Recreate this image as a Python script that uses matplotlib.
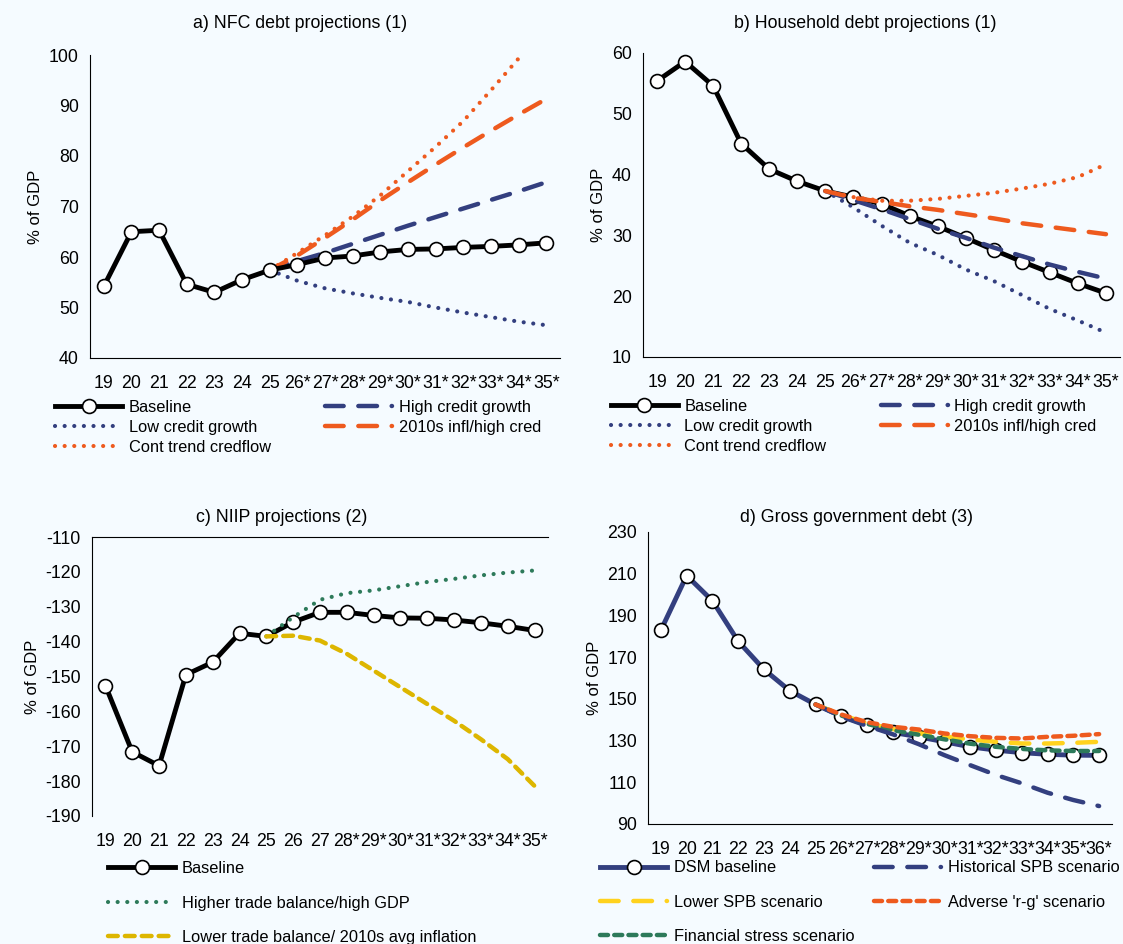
import numpy as np
import matplotlib
matplotlib.use("Agg")
import matplotlib.pyplot as plt

plt.rcParams['font.family'] = ['Liberation Sans', 'DejaVu Sans']
plt.rcParams['font.size'] = 12
plt.rcParams['axes.unicode_minus'] = False

nan = np.nan
BG = '#F5FBFF'
NAVY = '#333F7F'
ORANGE = '#EE5A1E'
GREEN = '#2D7A5A'
GOLD = '#DDB600'
YELLOW = '#FFD21E'

# --- panel a) NFC debt
years_ab = ['19', '20', '21', '22', '23', '24', '25', '26*', '27*', '28*', '29*',
            '30*', '31*', '32*', '33*', '34*', '35*']
nfc_base = [54.2, 65.0, 65.3, 54.6, 53.0, 55.5, 57.4, 58.5, 59.8, 60.2, 61.0,
            61.5, 61.6, 61.9, 62.1, 62.4, 62.8]
nfc_high = [nan] * 6 + [57.4, 59.2, 60.8, 62.6, 64.4, 66.2, 67.9, 69.6, 71.3, 73.0, 74.8]
nfc_low = [nan] * 6 + [57.4, 55.3, 53.8, 52.8, 51.9, 51.1, 50.0, 49.0, 48.1, 47.2, 46.5]
nfc_infl = [nan] * 6 + [57.4, 60.3, 63.8, 67.4, 71.2, 74.8, 78.3, 81.7, 85.0, 88.2, 91.3]
nfc_trend = [nan] * 6 + [57.4, 60.8, 64.3, 68.0, 72.2, 77.0, 81.8, 86.9, 93.0, 99.3, nan]

# --- panel b) household debt
hh_base = [55.4, 58.6, 54.6, 45.1, 40.9, 38.9, 37.3, 36.3, 35.2, 33.2, 31.5,
           29.6, 27.6, 25.7, 23.9, 22.1, 20.5]
hh_high = [nan] * 6 + [37.3, 35.8, 34.3, 32.7, 31.1, 29.6, 28.0, 26.6, 25.2, 24.0, 22.9]
hh_low = [nan] * 6 + [37.3, 34.6, 31.6, 28.8, 26.8, 24.4, 22.5, 20.2, 17.9, 16.0, 14.0]
hh_infl = [nan] * 6 + [37.3, 36.2, 35.5, 34.8, 34.2, 33.5, 32.8, 32.0, 31.4, 30.8, 30.2]
hh_trend = [nan] * 6 + [37.3, 36.3, 35.7, 35.7, 36.0, 36.5, 37.0, 37.7, 38.5, 39.6, 41.7]

# --- panel c) NIIP
years_c = ['19', '20', '21', '22', '23', '24', '25', '26', '27', '28*', '29*',
           '30*', '31*', '32*', '33*', '34*', '35*']
niip_base = [-152.6, -171.6, -175.6, -149.5, -145.9, -137.6, -138.5, -134.4, -131.6,
             -131.6, -132.5, -133.2, -133.3, -133.8, -134.6, -135.6, -136.8]
niip_high = [nan] * 6 + [-138.5, -133.0, -128.0, -126.1, -125.3, -124.1, -122.9,
                         -122.0, -121.0, -120.2, -119.6]
niip_low = [nan] * 6 + [-138.5, -138.3, -139.7, -143.5, -148.3, -153.1, -157.9,
                        -162.7, -168.0, -173.7, -181.4]

# --- panel d) gross government debt
years_d = ['19', '20', '21', '22', '23', '24', '25', '26*', '27*', '28*', '29*',
           '30*', '31*', '32*', '33*', '34*', '35*', '36*']
gov_base = [182.9, 209.1, 197.0, 177.6, 164.1, 153.9, 147.3, 141.7, 137.6, 133.9,
            131.8, 129.4, 127.0, 125.4, 124.2, 123.4, 123.0, 122.9]
gov_hist = [nan] * 6 + [147.3, 141.5, 137.0, 133.0, 128.3, 123.0, 118.2, 113.5,
                        109.5, 105.0, 101.5, 98.6]
gov_lowspb = [nan] * 6 + [147.3, 142.3, 138.3, 135.5, 133.5, 132.0, 130.5, 129.4,
                          128.6, 128.6, 128.9, 129.4]
gov_adverse = [nan] * 6 + [147.3, 142.5, 138.8, 136.6, 135.3, 133.4, 132.1, 131.3,
                           131.0, 131.8, 132.3, 133.1]
gov_stress = [nan] * 6 + [147.3, 142.0, 138.0, 135.0, 132.8, 130.6, 128.5, 127.0,
                          126.0, 125.3, 125.0, 125.0]

W, H = 1123, 944
fig = plt.figure(figsize=(W / 100, H / 100), dpi=100, facecolor=BG)


def box(l, r, t, b):
    return [l / W, 1 - b / H, (r - l) / W, (b - t) / H]


dot = dict(linestyle=(0, (0.01, 2.3)), dash_capstyle='round', lw=3.0)
longdash = dict(linestyle=(0, (4.2, 3.3)), dash_capstyle='round', lw=3.2)
shortdash = dict(linestyle=(0, (1.8, 1.4)), dash_capstyle='round', lw=3.2)
base_style = dict(color='black', lw=3.5, marker='o', ms=10, mfc='white', mec='black', mew=1.2)
leg_kw = dict(loc='upper left', frameon=False, handlelength=4.1, handletextpad=0.4,
              borderpad=0, borderaxespad=0, fontsize=11.8)


def setup(ax, labels, ylim, step):
    x = np.arange(len(labels))
    ax.set_facecolor(BG)
    ax.set_xlim(-0.5, len(labels) - 0.5)
    ax.set_ylim(*ylim)
    ax.set_yticks(np.arange(ylim[0], ylim[1] + 0.1, step))
    ax.set_xticks(x)
    ax.set_xticklabels(labels)
    for s in ['top', 'right']:
        ax.spines[s].set_visible(False)
    ax.tick_params(length=0, labelsize=12.8)
    ax.tick_params(axis='x', pad=12)
    ax.tick_params(axis='y', pad=8)
    ax.set_ylabel('% of GDP', fontsize=12, labelpad=4)
    return x


# a)
ax = fig.add_axes(box(90, 560, 55, 358))
x = setup(ax, years_ab, (40, 100), 10)
ax.plot(x, nfc_base, label='Baseline', zorder=4, **base_style)
ax.plot(x, nfc_low, color=NAVY, label='Low credit growth', zorder=3, **dot)
ax.plot(x, nfc_trend, color=ORANGE, label='Cont trend credflow', zorder=3, **dot)
ax.plot(x, nfc_high, color=NAVY, label='High credit growth', zorder=3, **longdash)
ax.plot(x, nfc_infl, color=ORANGE, label='2010s infl/high cred', zorder=3, **longdash)
ax.legend(bbox_to_anchor=(-0.074, -0.137), ncol=2, columnspacing=3.3,
          labelspacing=0.32, **leg_kw)
fig.text(300 / W, 1 - 24 / H, 'a) NFC debt projections (1)', ha='center', va='center', fontsize=12.8)

# b)
ax = fig.add_axes(box(643, 1120, 53, 357))
x = setup(ax, years_ab, (10, 60), 10)
ax.plot(x, hh_base, label='Baseline', zorder=2, **base_style)
ax.plot(x, hh_low, color=NAVY, label='Low credit growth', zorder=3, **dot)
ax.plot(x, hh_trend, color=ORANGE, label='Cont trend credflow', zorder=3, **dot)
ax.plot(x, hh_high, color=NAVY, label='High credit growth', zorder=3, **longdash)
ax.plot(x, hh_infl, color=ORANGE, label='2010s infl/high cred', zorder=3, **longdash)
ax.legend(bbox_to_anchor=(-0.068, -0.137), ncol=2, columnspacing=3.3,
          labelspacing=0.32, **leg_kw)
fig.text(865 / W, 1 - 24 / H, 'b) Household debt projections (1)', ha='center', va='center', fontsize=12.8)

# c)
ax = fig.add_axes(box(92, 548, 537, 816))
x = setup(ax, years_c, (-190, -110), 10)
ax.spines['bottom'].set_visible(False)
ax.spines['top'].set_visible(True)
ax.plot(x, niip_base, label='Baseline', zorder=2, **base_style)
ax.plot(x, niip_high, color=GREEN, label='Higher trade balance/high GDP', zorder=3, **dot)
ax.plot(x, niip_low, color=GOLD, label='Lower trade balance/ 2010s avg inflation', zorder=3,
        linestyle=(0, (2.2, 1.6)), dash_capstyle='round', lw=3.2)
ax.legend(bbox_to_anchor=(0.035, -0.162), ncol=1, labelspacing=1.18, **leg_kw)
fig.text(282 / W, 1 - 518 / H, 'c) NIIP projections (2)', ha='center', va='center', fontsize=12.8)

# d)
ax = fig.add_axes(box(648, 1112, 532, 824))
x = setup(ax, years_d, (90, 230), 20)
ax.plot(x, gov_base, label='DSM baseline', zorder=2,
        **{**base_style, 'color': NAVY})
ax.plot(x, gov_lowspb, color=YELLOW, label='Lower SPB scenario', zorder=3, **longdash)
ax.plot(x, gov_stress, color=GREEN, label='Financial stress scenario', zorder=3, **shortdash)
ax.plot(x, gov_hist, color=NAVY, label='Historical SPB scenario', zorder=3, **longdash)
ax.plot(x, gov_adverse, color=ORANGE, label="Adverse 'r-g' scenario", zorder=3, **shortdash)
ax.legend(bbox_to_anchor=(-0.103, -0.125), ncol=2, columnspacing=1.2,
          labelspacing=1.18, **leg_kw)
fig.text(857 / W, 1 - 518 / H, 'd) Gross government debt (3)', ha='center', va='center', fontsize=12.8)

fig.savefig('out.png', dpi=100, facecolor=BG)
